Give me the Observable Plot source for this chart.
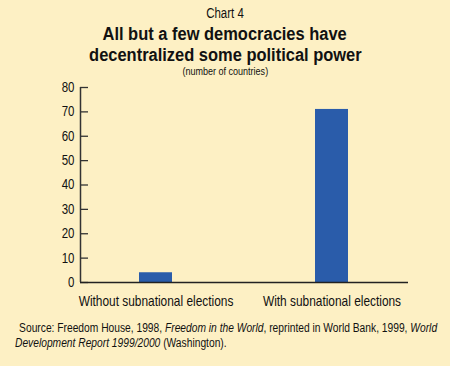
<!DOCTYPE html>
<html><head><meta charset="utf-8">
<script src="https://cdn.jsdelivr.net/npm/d3@7"></script>
<script src="https://cdn.jsdelivr.net/npm/@observablehq/plot@0.6"></script>
<style>
html,body{margin:0;padding:0;}
#wrap{position:relative;width:450px;height:366px;background:#fdf0c4;font-family:"Liberation Sans Narrow","Liberation Sans",sans-serif;font-stretch:condensed;color:#111;overflow:hidden;}
.t{position:absolute;left:0;width:450px;text-align:center;white-space:nowrap;}
.t span{display:inline-block;transform-origin:50% 50%;}
#kicker{top:4.6px;font-size:14px;line-height:17px;}
.title{font-size:18.3px;font-weight:bold;line-height:21px;height:21px;}
#title1{top:23.2px;}
#title2{top:44.2px;}
#sub{top:64.7px;font-size:11px;line-height:13px;}
#chart{position:absolute;left:0;top:78px;}
#cap{position:absolute;left:15px;top:321px;width:440px;font-size:12.5px;line-height:15px;text-indent:5px;white-space:nowrap;transform-origin:0 0;}
</style></head>
<body><div id="wrap">
<div class="t" id="kicker"><span>Chart 4</span></div>
<div class="t title" id="title1"><span>All but a few democracies have</span></div>
<div class="t title" id="title2"><span>decentralized some political power</span></div>
<div class="t" id="sub"><span>(number of countries)</span></div>
<div id="chart"></div>
<div id="cap">Source: Freedom House, 1998, <i>Freedom in the World</i>, reprinted in World Bank, 1999, <i>World<br>Development Report 1999/2000</i> (Washington).</div>
</div>
<script>
const categories = ["Without subnational elections", "With subnational elections"];
const values = [4, 71];
const yTicks = [0, 10, 20, 30, 40, 50, 60, 70, 80];

const data = categories.map((c, i) => ({category: c, value: values[i]}));

function measure(stretch) {
  const s = document.createElement("span");
  s.style.cssText = "font-family:'Liberation Sans Narrow','Liberation Sans';font-size:20px;position:absolute;visibility:hidden;white-space:nowrap;font-stretch:" + stretch;
  s.textContent = "Without subnational elections";
  document.body.appendChild(s);
  const r = s.getBoundingClientRect().width;
  s.remove();
  return r;
}
const narrowOK = measure("condensed") < measure("normal") * 0.93 ||
  (() => { const s = document.createElement("span"); s.style.cssText="font-family:'Liberation Sans Narrow',monospace;font-size:20px;position:absolute;visibility:hidden"; s.textContent="Without subnational"; document.body.appendChild(s); const a=s.getBoundingClientRect().width; s.style.fontFamily="monospace"; const b=s.getBoundingClientRect().width; s.remove(); return a!==b; })();
const SQ = 0.82;

const chart = Plot.plot({
  width: 450,
  height: 232,
  marginTop: 9,
  marginBottom: 28,
  marginLeft: 80,
  marginRight: 42,
  style: {background: "transparent", fontFamily: "'Liberation Sans Narrow','Liberation Sans',sans-serif", fontStretch: "condensed", fontSize: "14px", color: "#111"},
  x: {domain: categories, paddingInner: 0.81, paddingOuter: 0.334, label: null},
  y: {domain: [0, 80], ticks: yTicks, label: null},
  marks: [
    Plot.barY(data, {x: "category", y: "value", fill: "#2a5caa"}),
    Plot.axisY({ticks: yTicks, tickSize: 0, tickPadding: 6, fontSize: 14}),
    Plot.axisY({ticks: yTicks, tickSize: -8, tickFormat: () => "", stroke: "#333", strokeWidth: 1.3}),
    Plot.axisX({tickSize: 0, tickPadding: 13, fontSize: 14.5}),
    Plot.ruleY([0], {stroke: "#222", strokeWidth: 1.5})
  ]
});
document.getElementById("chart").appendChild(chart);
// vertical y-axis line drawn from the plot's own y scale
const ys = chart.scale("y");
d3.select(chart).append("line")
  .attr("x1", 80.5).attr("x2", 80.5)
  .attr("y1", ys.apply(80)).attr("y2", ys.apply(0))
  .attr("stroke", "#333").attr("stroke-width", 1.5);

if (!narrowOK) {
  document.querySelectorAll(".t span").forEach(s => s.style.transform = `scaleX(${SQ})`);
  const cap = document.getElementById("cap");
  cap.style.transform = `scaleX(${SQ})`;
  chart.querySelectorAll("text").forEach(t => {
    const L = t.getComputedTextLength();
    if (L > 0) { t.setAttribute("textLength", L * SQ); t.setAttribute("lengthAdjust", "spacingAndGlyphs"); }
  });
}
// fit the bold headline to the reference's line width
const t1 = document.querySelector("#title1 span");
const tw = t1.offsetWidth;
const tScale = 244 / tw;
document.querySelectorAll(".title span").forEach(s => s.style.transform = `scaleX(${tScale})`);
</script>
</body></html>
